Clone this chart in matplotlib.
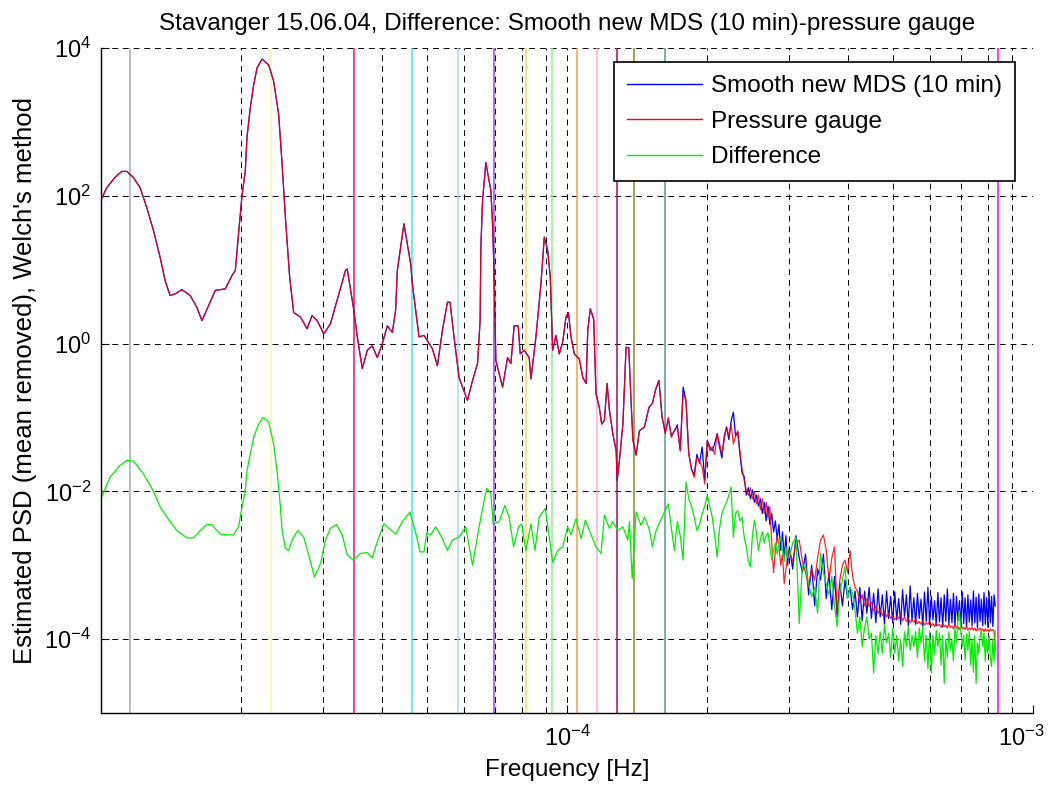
import numpy as np
import matplotlib
matplotlib.use("Agg")
import matplotlib.pyplot as plt
import matplotlib.transforms as mtransforms
from matplotlib.ticker import FixedLocator, NullLocator, FuncFormatter

plt.rcParams['font.family'] = ['Liberation Sans', 'DejaVu Sans']
plt.rcParams['mathtext.default'] = 'regular'

# ---------------------------------------------------------------------------
# Welch PSD estimates, Stavanger 15.06.04
# frequencies in units of 1e-5 Hz, PSD given as log10 values
# ---------------------------------------------------------------------------

# low-frequency part, where MDS and gauge spectra coincide
freq_low = [
    1.003, 1.029, 1.072, 1.108, 1.136, 1.173, 1.213, 1.254, 1.296, 1.339,
    1.373, 1.407, 1.450, 1.491, 1.554, 1.606, 1.647, 1.701, 1.759, 1.848,
    1.910, 1.942, 1.974, 2.007, 2.040, 2.057, 2.091, 2.126, 2.162, 2.216,
    2.290, 2.347, 2.406, 2.447, 2.487, 2.540, 2.591, 2.679, 2.769, 2.838,
    2.910, 3.007, 3.108, 3.238, 3.347, 3.376, 3.488, 3.548, 3.637, 3.728,
    3.821, 3.917, 4.015, 4.116, 4.219, 4.288, 4.324, 4.468, 4.618, 4.658,
    4.813, 4.934, 5.142, 5.271, 5.404, 5.539, 5.610, 5.722, 5.866, 6.116,
    6.270, 6.427, 6.510, 6.533, 6.588, 6.696, 6.865, 6.922, 6.978, 7.036,
    7.152, 7.273, 7.456, 7.578, 7.703, 7.857, 7.936, 8.095, 8.297, 8.368,
    8.577, 8.793, 8.938, 9.089, 9.207, 9.316, 9.470, 9.625, 9.790, 9.950,
    10.07, 10.20, 10.37, 10.63, 10.81, 10.99, 11.08, 11.22, 11.41, 11.54,
    11.73, 11.87, 12.03, 12.19, 12.33, 12.54, 12.75, 12.81, 12.96, 13.18,
    13.39, 13.57, 13.73, 13.85, 14.07, 14.30, 14.66,
]
log_psd_low = [
    1.96, 2.11, 2.25, 2.33, 2.33, 2.25, 2.11, 1.84, 1.53, 1.17,
    0.85, 0.65, 0.68, 0.73, 0.65, 0.49, 0.31, 0.51, 0.72, 0.74,
    0.92, 0.99, 1.50, 2.00, 2.34, 2.79, 3.19, 3.50, 3.73, 3.85,
    3.77, 3.55, 3.10, 2.43, 1.71, 0.90, 0.42, 0.36, 0.20, 0.38,
    0.31, 0.13, 0.27, 0.67, 0.99, 1.01, 0.45, 0.09, -0.34, -0.09,
    -0.03, -0.19, 0.00, 0.24, 0.15, 0.45, 0.99, 1.62, 1.08, 0.81,
    0.09, 0.11, -0.07, -0.30, 0.18, 0.56, 0.56, 0.09, -0.46, -0.77,
    -0.50, -0.27, 0.31, 1.30, 1.93, 2.45, 2.07, 1.62, 0.90, -0.23,
    -0.41, -0.59, -0.19, -0.27, 0.24, 0.24, -0.14, -0.09, -0.19, -0.48,
    0.09, 0.81, 1.44, 1.26, 0.90, -0.09, 0.11, -0.14, 0.02, 0.36,
    0.42, 0.09, -0.14, -0.21, -0.46, -0.54, 0.18, 0.47, 0.33, -0.68,
    -0.86, -1.09, -1.04, -0.54, -0.90, -1.22, -1.45, -1.85, -1.58, -1.09,
    -0.05, -0.06, -0.81, -1.31, -1.51, -1.18, -1.13,
]

# difference spectrum, low-frequency part
freq_diff_low = [
    1.003, 1.045, 1.099, 1.136, 1.173, 1.233, 1.296, 1.339, 1.407, 1.455,
    1.529, 1.579, 1.633, 1.688, 1.730, 1.803, 1.864, 1.925, 1.974, 2.007,
    2.040, 2.057, 2.126, 2.179, 2.227, 2.290, 2.347, 2.386, 2.426, 2.447,
    2.487, 2.528, 2.570, 2.643, 2.723, 2.791, 2.871, 2.958, 3.032, 3.108,
    3.201, 3.293, 3.376, 3.478, 3.606, 3.728, 3.821, 3.917, 4.047, 4.148,
    4.288, 4.433, 4.603, 4.735, 4.837, 4.934, 4.999, 5.099, 5.227, 5.404,
    5.539, 5.678, 5.866, 6.064, 6.270, 6.478, 6.641, 6.730, 6.865, 6.943,
    7.152, 7.357, 7.515, 7.680, 7.872, 7.991, 8.163, 8.368, 8.535, 8.718,
    8.981, 9.162, 9.316, 9.550, 9.790, 10.03, 10.20, 10.46, 10.72, 10.95,
    11.22, 11.54, 11.83, 12.03, 12.33, 12.54, 12.85, 13.18, 13.51, 13.61,
    13.80, 14.07, 14.42, 14.66,
]
log_diff_low = [
    -2.08, -1.81, -1.65, -1.58, -1.59, -1.76, -2.00, -2.21, -2.41, -2.53,
    -2.63, -2.63, -2.53, -2.45, -2.45, -2.58, -2.59, -2.59, -2.48, -2.21,
    -1.99, -1.72, -1.27, -1.09, -1.00, -1.06, -1.36, -1.72, -2.20, -2.53,
    -2.77, -2.80, -2.66, -2.53, -2.62, -2.86, -3.16, -2.98, -2.66, -2.50,
    -2.45, -2.59, -2.86, -2.93, -2.84, -2.83, -2.90, -2.68, -2.44, -2.50,
    -2.58, -2.41, -2.28, -2.56, -2.82, -2.82, -2.56, -2.59, -2.48, -2.64,
    -2.80, -2.66, -2.62, -2.48, -3.00, -2.48, -2.12, -1.96, -2.03, -2.44,
    -2.41, -2.19, -2.35, -2.75, -2.48, -2.44, -2.80, -2.44, -2.80, -2.35,
    -2.23, -2.62, -2.96, -2.80, -2.75, -2.48, -2.59, -2.37, -2.64, -2.39,
    -2.56, -2.75, -2.84, -2.32, -2.50, -2.41, -2.53, -2.48, -2.66, -2.41,
    -3.18, -2.28, -2.46, -2.35,
]

# high-frequency part: Welch bins from 1.5e-4 Hz up to the Nyquist frequency
freq_hf = np.concatenate([np.arange(15.0, 30.0, 0.25), np.arange(30.0, 83.01, 0.5)])

log_mds_hf = [
    -0.86, -0.81, -0.62, -0.50, -1.00, -1.20, -1.02, -1.25, -1.18, -1.10,
    -1.45, -0.59, -0.77, -1.48, -1.70, -1.78, -1.50, -1.62, -1.40, -1.85,
    -1.31, -1.40, -1.45, -1.35, -1.22, -1.40, -1.55, -1.25, -1.13, -1.30,
    -1.05, -0.93, -1.25, -1.20, -1.50, -1.75, -1.80, -2.05, -1.95, -2.10,
    -1.98, -2.15, -2.05, -2.20, -2.10, -2.30, -2.15, -2.40, -2.20, -2.45,
    -2.30, -2.55, -2.40, -2.65, -2.45, -2.80, -2.55, -2.90, -2.60, -3.00,
    -2.75, -3.05, -2.60, -2.90, -3.10, -2.85, -3.40, -3.00, -3.55, -3.05,
    -3.20, -2.85, -3.45, -3.10, -3.60, -3.15, -3.70, -3.25, -3.55, -3.20,
    -3.45, -3.30, -3.60, -3.35, -3.70, -3.30, -3.75, -3.35, -3.65, -3.30,
    -3.72, -3.38, -3.78, -3.32, -3.70, -3.40, -3.80, -3.35, -3.72, -3.42,
    -3.78, -3.36, -3.74, -3.45, -3.80, -3.33, -3.70, -3.40, -3.82, -3.28,
    -3.75, -3.44, -3.80, -3.38, -3.72, -3.46, -3.83, -3.36, -3.76, -3.30,
    -3.80, -3.42, -3.74, -3.48, -3.82, -3.37, -3.77, -3.44, -3.84, -3.40,
    -3.76, -3.32, -3.80, -3.46, -3.78, -3.38, -3.83, -3.42, -3.75, -3.48,
    -3.81, -3.36, -3.79, -3.44, -3.84, -3.40, -3.77, -3.47, -3.82, -3.35,
    -3.78, -3.43, -3.85, -3.39, -3.76, -3.46, -3.82, -3.37, -3.80, -3.44,
    -3.84, -3.36, -3.78, -3.42, -3.83, -3.40, -3.55,
]
log_gauge_hf = [
    -0.86, -0.81, -0.62, -0.50, -1.00, -1.22, -1.00, -1.27, -1.18, -1.13,
    -1.45, -0.68, -0.77, -1.50, -1.70, -1.81, -1.54, -1.60, -1.67, -1.90,
    -1.31, -1.45, -1.40, -1.50, -1.22, -1.35, -1.49, -1.30, -1.13, -1.25,
    -1.09, -1.36, -1.25, -1.18, -1.45, -1.70, -1.85, -1.99, -2.05, -1.95,
    -2.10, -2.00, -2.17, -2.05, -2.25, -2.10, -2.30, -2.15, -2.35, -2.21,
    -2.70, -3.10, -2.80, -2.60, -2.75, -3.00, -2.85, -3.25, -3.05, -2.90,
    -2.80, -2.95, -2.70, -2.66, -2.95, -3.10, -3.29, -3.05, -3.20, -2.90,
    -2.66, -2.59, -2.80, -3.20, -2.90, -2.75, -3.65, -3.20, -3.00, -2.93,
    -3.10, -2.80, -3.15, -3.30, -3.35, -3.50, -3.40, -3.55, -3.45, -3.56,
    -3.50, -3.62, -3.55, -3.65, -3.60, -3.68, -3.62, -3.70, -3.65, -3.72,
    -3.68, -3.74, -3.70, -3.72, -3.66, -3.75, -3.70, -3.76, -3.72, -3.78,
    -3.74, -3.77, -3.73, -3.79, -3.76, -3.80, -3.75, -3.81, -3.78, -3.80,
    -3.76, -3.82, -3.79, -3.83, -3.78, -3.82, -3.80, -3.84, -3.79, -3.83,
    -3.81, -3.85, -3.80, -3.84, -3.82, -3.86, -3.81, -3.85, -3.83, -3.87,
    -3.82, -3.86, -3.84, -3.87, -3.83, -3.88, -3.85, -3.87, -3.84, -3.88,
    -3.85, -3.89, -3.86, -3.88, -3.85, -3.89, -3.86, -3.90, -3.86, -3.89,
    -3.87, -3.90, -3.86, -3.89, -3.87, -3.90, -4.15,
]
log_diff_hf = [
    -2.50, -2.75, -2.55, -2.44, -2.35, -2.25, -2.17, -2.50, -2.80, -2.41,
    -2.60, -2.93, -1.87, -2.10, -2.20, -2.35, -2.53, -2.45, -2.30, -2.20,
    -2.05, -2.20, -2.35, -2.60, -2.89, -2.50, -2.30, -2.21, -2.15, -2.05,
    -1.94, -2.62, -2.30, -2.26, -2.40, -2.35, -2.62, -2.75, -2.95, -3.02,
    -2.60, -2.39, -2.56, -2.80, -2.65, -2.55, -2.70, -2.60, -2.56, -2.75,
    -2.93, -2.80, -2.70, -2.85, -2.70, -2.62, -2.80, -2.95, -2.75, -2.89,
    -2.90, -2.70, -2.62, -3.79, -3.00, -3.02, -3.25, -3.43, -3.30, -3.65,
    -2.84, -3.10, -3.25, -3.40, -3.15, -3.55, -3.83, -3.35, -3.20, -3.02,
    -3.45, -3.30, -3.38, -3.60, -3.92, -3.70, -4.10, -3.85, -3.70, -4.00,
    -3.92, -4.46, -3.95, -4.20, -3.90, -4.19, -3.80, -4.05, -3.92, -4.25,
    -3.85, -4.19, -3.95, -4.30, -4.00, -4.37, -3.90, -4.10, -3.83, -4.15,
    -3.95, -4.10, -3.90, -4.25, -3.85, -4.05, -3.83, -4.30, -3.95, -4.40,
    -3.90, -4.46, -3.95, -4.20, -3.88, -4.10, -3.92, -4.35, -3.95, -4.60,
    -4.00, -4.25, -3.90, -4.15, -4.01, -4.30, -3.85, -4.05, -3.75, -3.61,
    -3.90, -4.10, -3.95, -4.28, -3.92, -4.15, -3.90, -4.35, -4.00, -4.45,
    -3.95, -4.60, -4.05, -4.20, -3.95, -3.88, -4.10, -3.92, -4.30, -4.00,
    -4.19, -3.95, -4.25, -4.37, -4.00, -4.30, -3.88,
]

# marker frequencies (tidal constituents and Nyquist), units of 1e-5 Hz
marker_freqs = [1.154, 2.32, 3.49, 4.658, 5.83, 6.97, 8.15, 9.28, 10.49,
                11.62, 12.83, 13.95, 16.19, 84.2]
marker_colors = ['#a8a8c4', '#fffb9c', '#e0186e', '#40e8f4', '#a8dcf4',
                 '#9b40ff', '#f0e040', '#90ee90', '#f0a050', '#ffaccc',
                 '#a0105a', '#8a8a20', '#5f9494', '#ff00ff']

title = "Stavanger 15.06.04, Difference: Smooth new MDS (10 min)-pressure gauge"
series_labels = ["Smooth new MDS (10 min)", "Pressure gauge", "Difference"]

# ---------------------------------------------------------------------------
unit = 1e-5
f_psd = np.concatenate([np.array(freq_low), freq_hf]) * unit
f_diff = np.concatenate([np.array(freq_diff_low), freq_hf]) * unit
mds = 10.0 ** np.concatenate([log_psd_low, log_mds_hf])
gauge = 10.0 ** np.concatenate([log_psd_low, log_gauge_hf])
diff = 10.0 ** np.concatenate([log_diff_low, log_diff_hf])

W, H = 1055, 788
fig = plt.figure(figsize=(W / 100, H / 100), dpi=100)
ax = fig.add_axes([101 / W, 1 - 713 / H, (1033 - 101) / W, (713 - 48) / H])

ax.set_xscale('log')
ax.set_yscale('log')
ax.set_xlim(1e-5, 1e-3)
ax.set_ylim(1e-5, 1e4)

for fm, c in zip(marker_freqs, marker_colors):
    ax.axvline(fm * unit, color=c, lw=1.1, zorder=1.5)

l1, = ax.plot(f_psd, mds, color='#0000ff', lw=0.9, zorder=2)
l2, = ax.plot(f_psd, gauge, color='#ff0000', lw=0.9, alpha=0.85, zorder=2.1)
l3, = ax.plot(f_diff, diff, color='#00ee00', lw=0.9, zorder=2.2)

# axes decoration
ax.xaxis.set_major_locator(FixedLocator([1e-4, 1e-3]))
ax.xaxis.set_minor_locator(FixedLocator([k * 1e-5 for k in range(2, 10)] +
                                        [k * 1e-4 for k in range(2, 10)]))
ax.yaxis.set_major_locator(FixedLocator([1e-4, 1e-2, 1e0, 1e2, 1e4]))
ax.yaxis.set_minor_locator(NullLocator())

def pow10(v, pos):
    e = int(round(np.log10(v)))
    return r'$10^{%d}$' % e

ax.xaxis.set_major_formatter(FuncFormatter(pow10))
ax.yaxis.set_major_formatter(FuncFormatter(pow10))
ax.xaxis.set_minor_formatter(FuncFormatter(lambda v, p: ''))

ax.tick_params(which='both', direction='in', top=False, right=False,
               labelsize=17, width=0.8, color='k')
ax.tick_params(which='major', length=6)
ax.tick_params(which='minor', length=4)
ax.tick_params(axis='x', pad=9)
ax.tick_params(axis='y', pad=7)

dash = (0, (6, 5))
ax.grid(True, which='both', axis='x', linestyle=dash, color='k', lw=0.7)
ax.grid(True, which='major', axis='y', linestyle=dash, color='k', lw=0.7)
ax.set_axisbelow(True)

for side in ('top', 'right'):
    ax.spines[side].set_visible(False)
for side in ('left', 'bottom'):
    ax.spines[side].set_linewidth(1.0)

ax.set_title(title, fontsize=17.5, pad=13)
ax.set_xlabel("Frequency [Hz]", fontsize=17.5, labelpad=6)
ax.set_ylabel("Estimated PSD (mean removed), Welch's method", fontsize=18.5, labelpad=5)

leg = ax.legend([l1, l2, l3], series_labels, loc='upper right',
                bbox_to_anchor=(0.981, 0.979), borderaxespad=0,
                fancybox=False, edgecolor='k', framealpha=1, fontsize=17.5,
                handlelength=3.1, handletextpad=0.35, borderpad=0.55,
                labelspacing=0.55)
leg.get_frame().set_linewidth(1.2)
for h in leg.get_lines():
    h.set_alpha(1.0)
    h.set_linewidth(1.0)

# keep the label at the right end of the frequency axis inside the figure
fig.canvas.draw()
for tick in ax.xaxis.get_major_ticks():
    if np.isclose(tick.get_loc(), 1e-3):
        shift = mtransforms.ScaledTranslation(-0.12, 0, fig.dpi_scale_trans)
        tick.label1.set_transform(tick.label1.get_transform() + shift)

fig.savefig('out.png', dpi=100)
